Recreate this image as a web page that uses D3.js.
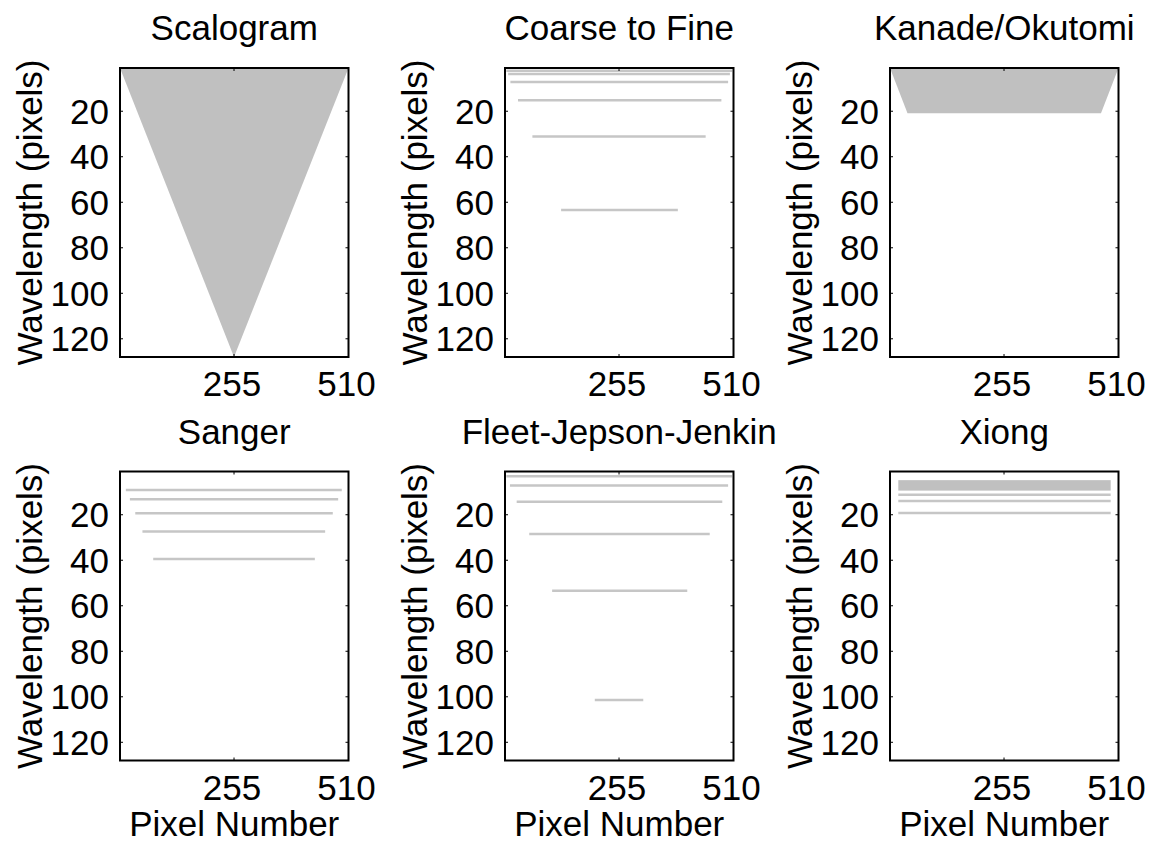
<!DOCTYPE html>
<html>
<head>
<meta charset="utf-8">
<script src="https://cdn.jsdelivr.net/npm/d3@7"></script>
<style>
body { margin: 0; background: #fff; }
text { font-family: "Liberation Sans", Arial, sans-serif; fill: #000; }
</style>
</head>
<body>
<div id="chart"></div>
<script>
const width = 1150
const height = 841

// axes
const xDomain = [1, 510]
const yDomain = [1, 128]
const xTicks = [255, 510]
const yTicks = [20, 40, 60, 80, 100, 120]
const titles = ["Scalogram", "Coarse to Fine", "Kanade/Okutomi", "Sanger", "Fleet-Jepson-Jenkin", "Xiong"]

// filled regions, [pixel, wavelength]
const scalogramArea = [[1, 1], [510, 1], [255, 128]]
const kanadeArea = [[1, 1], [510, 1], [471, 20.9], [40, 20.9]]

// coarse to fine
const coarseWave = [2.2, 3.6, 7.2, 15.2, 31.1, 63.4]
const coarseFrom = [4, 8, 13, 30, 62, 126]
const coarseTo = [507, 502, 498, 483, 448, 386]

// sanger
const sangerWave = [9.1, 13.2, 19.4, 27.4, 39.4]
const sangerFrom = [14, 23, 35, 51, 75]
const sangerTo = [495, 487, 475, 458, 435]

// fleet-jepson-jenkin
const fleetWave = [3.1, 7.2, 14.3, 28.5, 53.4, 101.4]
const fleetFrom = [4, 12, 27, 55, 106, 201]
const fleetTo = [507, 498, 485, 457, 407, 309]

// xiong
const xiongBand = [4.8, 9.4]
const xiongWave = [11.2, 14, 19.2]
const xiongFrom = 19.5
const xiongTo = 492.6

const colLeft = [120, 505, 890]
const rowTop = [68, 471.5]
const pw = 228.5
const ph = 289
const fontSize = 35
const fillColor = "#c0c0c0"
const lineColor = "#c6c6c6"

const svg = d3.select("#chart").append("svg")
    .attr("width", width)
    .attr("height", height)
    .attr("viewBox", [0, 0, width, height])

function toLines(wave, from, to) {
    return wave.map((w, i) => ({ w: w, x0: Array.isArray(from) ? from[i] : from, x1: Array.isArray(to) ? to[i] : to }))
}

function drawPanel(idx, draw) {
    const col = idx % 3
    const row = Math.floor(idx / 3)
    const left = colLeft[col]
    const top = rowTop[row]
    const x = d3.scaleLinear(xDomain, [left, left + pw])
    const y = d3.scaleLinear(yDomain, [top, top + ph])
    const g = svg.append("g")

    draw(g, x, y)

    // box
    g.append("rect")
        .attr("x", left).attr("y", top)
        .attr("width", pw).attr("height", ph)
        .attr("fill", "none").attr("stroke", "#000").attr("stroke-width", 2)

    // inward ticks on all sides
    const tk = 3
    yTicks.forEach(t => {
        g.append("line").attr("x1", left).attr("x2", left + tk).attr("y1", y(t)).attr("y2", y(t)).attr("stroke", "#000")
        g.append("line").attr("x1", left + pw).attr("x2", left + pw - tk).attr("y1", y(t)).attr("y2", y(t)).attr("stroke", "#000")
        g.append("text")
            .attr("x", left - 11).attr("y", y(t) + 0.358 * fontSize)
            .attr("text-anchor", "end").attr("font-size", fontSize)
            .text(t)
    })
    xTicks.forEach(t => {
        g.append("line").attr("x1", x(t)).attr("x2", x(t)).attr("y1", top).attr("y2", top + tk).attr("stroke", "#000")
        g.append("line").attr("x1", x(t)).attr("x2", x(t)).attr("y1", top + ph).attr("y2", top + ph - tk).attr("stroke", "#000")
        g.append("text")
            .attr("x", x(t) - 2).attr("y", top + ph + 39)
            .attr("text-anchor", "middle").attr("font-size", fontSize)
            .text(t)
    })

    g.append("text")
        .attr("x", left + pw / 2).attr("y", top - 28)
        .attr("text-anchor", "middle").attr("font-size", fontSize)
        .text(titles[idx])

    g.append("text")
        .attr("transform", "translate(" + (left - 78) + "," + (top + ph / 2) + ") rotate(-90)")
        .attr("text-anchor", "middle").attr("font-size", fontSize)
        .text("Wavelength (pixels)")

    if (row === 1) {
        g.append("text")
            .attr("x", left + pw / 2).attr("y", top + ph + 75)
            .attr("text-anchor", "middle").attr("font-size", fontSize)
            .text("Pixel Number")
    }
}

function drawArea(g, x, y, pts) {
    g.append("path")
        .attr("d", d3.line().x(d => x(d[0])).y(d => y(d[1]))(pts) + "Z")
        .attr("fill", fillColor)
}

function drawLines(g, x, y, lines) {
    g.selectAll(null)
        .data(lines)
        .join("line")
        .attr("x1", d => x(d.x0))
        .attr("x2", d => x(d.x1))
        .attr("y1", d => y(d.w))
        .attr("y2", d => y(d.w))
        .attr("stroke", lineColor)
        .attr("stroke-width", 2.5)
}

drawPanel(0, (g, x, y) => drawArea(g, x, y, scalogramArea))
drawPanel(1, (g, x, y) => drawLines(g, x, y, toLines(coarseWave, coarseFrom, coarseTo)))
drawPanel(2, (g, x, y) => drawArea(g, x, y, kanadeArea))
drawPanel(3, (g, x, y) => drawLines(g, x, y, toLines(sangerWave, sangerFrom, sangerTo)))
drawPanel(4, (g, x, y) => drawLines(g, x, y, toLines(fleetWave, fleetFrom, fleetTo)))
drawPanel(5, (g, x, y) => {
    g.append("rect")
        .attr("x", x(xiongFrom)).attr("width", x(xiongTo) - x(xiongFrom))
        .attr("y", y(xiongBand[0])).attr("height", y(xiongBand[1]) - y(xiongBand[0]))
        .attr("fill", fillColor)
    drawLines(g, x, y, toLines(xiongWave, xiongFrom, xiongTo))
})
</script>
</body>
</html>
